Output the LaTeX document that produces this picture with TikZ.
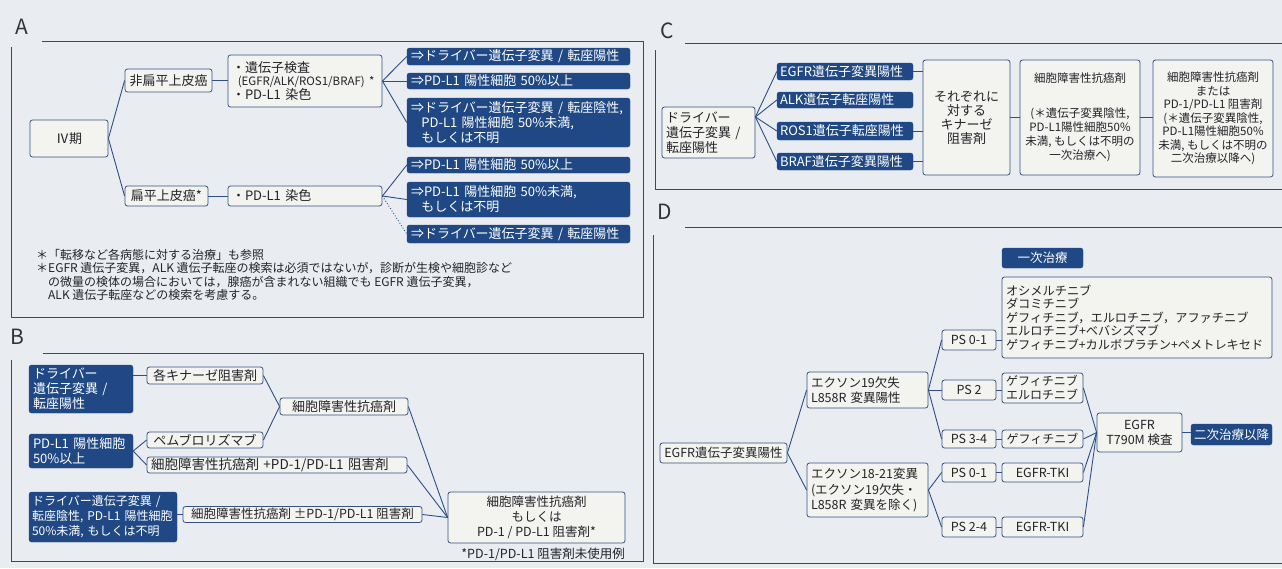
\documentclass[tikz,border=0pt]{standalone}
\usepackage{fontspec}
\setmainfont{Noto Sans CJK JP}
\usetikzlibrary{calc}
\definecolor{bg}{RGB}{233,237,242}
\definecolor{navy}{RGB}{31,72,132}
\definecolor{bord}{RGB}{52,82,132}
\definecolor{boxf}{RGB}{243,243,240}
\definecolor{framec}{RGB}{70,70,75}
\definecolor{conncol}{RGB}{45,78,135}
\definecolor{txt}{RGB}{35,35,40}
\newcommand\fz[2]{\fontsize{#1}{#2}\selectfont}
\begin{document}
\begin{tikzpicture}[x=1pt,y=-1pt,
  lbox/.style={draw=bord, fill=boxf, rounded corners=2.5pt, line width=0.8pt, inner sep=0pt, font=\fz{13}{15}, text=txt},
  dbox/.style={draw=navy, fill=navy, rounded corners=2.5pt, inner sep=0pt, font=\fz{13}{15}, text=white},
  sz/.style n args={2}{minimum width=#1pt, minimum height=#2pt},
  lt/.style={text width=#1pt, align=left, inner xsep=4pt},
  ct/.style={align=center},
  conn/.style={draw=conncol, line width=0.9pt},
  frame/.style={draw=framec, line width=0.8pt},
  plabel/.style={font=\fz{21}{21}, text=black!80, inner sep=0pt},
  note/.style={font=\fz{12}{13.5}, inner sep=0pt, align=left, text=txt}
]
\fill[bg] (0,0) rectangle (1282,568);
\useasboundingbox (0,0) rectangle (1282,568);

% ---------------- Panel A ----------------
\node[plabel] (labA) at (22,27) {A};
\draw[frame] (42,41) -- (643,41) -- (643,317) -- (11,317) -- (11,47);

\node[lbox, sz={78}{37}] (iv) at (69,138.5) {Ⅳ期};
\node[lbox, sz={87}{23}] (ns) at (168.5,80.5) {非扁平上皮癌};
\node[lbox, sz={154}{52}, lt=146] (gene) at (305,81) {・遺伝子検査\\[-2pt]{\fz{11.5}{11}\hspace*{0.5em}(EGFR/ALK/ROS1/BRAF)~*}\\[-1pt]・PD-L1~染色};
\node[lbox, sz={83}{20}] (sq) at (166.5,196) {扁平上皮癌*};
\node[lbox, sz={154}{20}, lt=146] (pd) at (305,196) {・PD-L1~染色};

\node[dbox, sz={223}{17}, lt=215] (a1) at (518.5,56.5) {⇒ドライバー遺伝子変異~/~転座陽性};
\node[dbox, sz={223}{16}, lt=215] (a2) at (518.5,81) {⇒PD-L1~陽性細胞~50\%以上};
\node[dbox, sz={223}{49}, lt=215] (a3) at (518.5,122.5) {⇒ドライバー遺伝子変異~/~転座陰性,\\\hspace*{0.8em}PD-L1~陽性細胞~50\%未満,\\\hspace*{0.8em}もしくは不明};
\node[dbox, sz={223}{16}, lt=215] (a4) at (518.5,165) {⇒PD-L1~陽性細胞~50\%以上};
\node[dbox, sz={223}{35}, lt=215] (a5) at (518.5,199.5) {⇒PD-L1~陽性細胞~50\%未満,\\\hspace*{0.8em}もしくは不明};
\node[dbox, sz={223}{18}, lt=215] (a6) at (518.5,234) {⇒ドライバー遺伝子変異~/~転座陽性};

\draw[conn] (iv.east) -- (ns.west);
\draw[conn] (iv.east) -- (sq.west);
\draw[conn] (ns.east) -- (ns.east -| gene.west);
\draw[conn] (gene.east) -- (a1.west);
\draw[conn] (gene.east) -- (a2.west);
\draw[conn] (gene.east) -- (a3.west);
\draw[conn] (sq.east) -- (pd.west);
\draw[conn] (pd.east) -- (a4.west);
\draw[conn] (pd.east) -- (a5.west);
\draw[conn, dotted] (pd.east) -- (a6.west);

\node[note, anchor=north west] (fnA) at (36,249) {＊「転移など各病態に対する治療」も参照\\
＊EGFR 遺伝子変異，ALK 遺伝子転座の検索は必須ではないが，診断が生検や細胞診など\\
\hspace*{1em}の微量の検体の場合においては，腺癌が含まれない組織でも EGFR 遺伝子変異，\\
\hspace*{1em}ALK 遺伝子転座などの検索を考慮する。};

% ---------------- Panel B ----------------
\node[plabel] (labB) at (17,337) {B};
\draw[frame] (43,353) -- (643,353) -- (643,561) -- (11,561) -- (11,360);

\node[dbox, sz={104}{48}, lt=96] (b1) at (81,389) {ドライバー\\遺伝子変異~/\\転座陽性};
\node[dbox, sz={104}{34}, lt=96] (b2) at (81,451) {PD-L1~陽性細胞\\50\%以上};
\node[dbox, sz={148}{50}, lt=142, inner xsep=3pt, font=\fz{12}{15}] (b3) at (103,517) {ドライバー遺伝子変異~/\\転座陰性,~PD-L1~陽性細胞\\50\%未満,~もしくは不明};

\node[lbox, sz={116}{17}] (kin) at (205,375.5) {各キナーゼ阻害剤};
\node[lbox, sz={128}{17}] (cyto) at (344,406.5) {細胞障害性抗癌剤};
\node[lbox, sz={116}{16}] (pem) at (205,440) {ペムブロリズマブ};
\node[lbox, sz={260}{16}, lt=252, font=\fz{13.5}{15}] (cpd) at (277,465) {細胞障害性抗癌剤~+PD-1/PD-L1~阻害剤};
\node[lbox, sz={239}{16}, font=\fz{12.5}{14}] (cpm) at (302.5,514.5) {細胞障害性抗癌剤 ±PD-1/PD-L1 阻害剤};
\node[lbox, sz={177}{51}, ct, font=\fz{12.5}{15}] (fin) at (536.5,517.5) {細胞障害性抗癌剤\\もしくは\\PD-1 / PD-L1 阻害剤*};
\node[font=\fz{12.5}{14}, anchor=east, inner sep=0pt, text=txt] (bnote) at (625,554) {*PD-1/PD-L1 阻害剤未使用例};

\draw[conn] (b1.east |- kin.west) -- (kin.west);
\draw[conn] (kin.east) -- (cyto.west);
\draw[conn] (pem.east) -- (cyto.west);
\draw[conn] (b2.east) -- (pem.west);
\draw[conn] (b2.east) -- (cpd.west);
\draw[conn] (cyto.east) -- (fin.west);
\draw[conn] (cpd.east) -- (fin.west);
\draw[conn] (b3.east |- cpm.west) -- (cpm.west);
\draw[conn] (cpm.east) -- (fin.west);

% ---------------- Panel C ----------------
\node[plabel] (labC) at (667,31) {C};
\draw[frame] (685,43) -- (1282,43);
\draw[frame] (655,50) -- (655,189) -- (1282,189);

\node[lbox, sz={93}{51}, lt=85] (drv) at (708.5,132.5) {ドライバー\\遺伝子変異~/\\転座陽性};
\node[dbox, sz={136}{17}, lt=130, inner xsep=3pt] (ce) at (845,71.5) {EGFR遺伝子変異陽性};
\node[dbox, sz={136}{16}, lt=130, inner xsep=3pt] (ca) at (845,100) {ALK遺伝子転座陽性};
\node[dbox, sz={136}{18}, lt=130, inner xsep=3pt] (cr) at (845,131) {ROS1遺伝子転座陽性};
\node[dbox, sz={136}{17}, lt=130, inner xsep=3pt] (cb) at (845,161.5) {BRAF遺伝子変異陽性};
\node[lbox, sz={87}{115}, ct, font=\fz{13}{14}] (kc) at (966.5,117.5) {それぞれに\\対する\\キナーゼ\\阻害剤};
\node[lbox, sz={120}{115}, ct, font=\fz{11.5}{14}] (cyc) at (1080,117.5) {細胞障害性抗癌剤\\[21pt](＊遺伝子変異陰性,\\PD-L1陽性細胞50\%\\未満, もしくは不明の\\一次治療へ)};
\node[lbox, sz={120}{117}, ct, font=\fz{11.5}{13.5}] (cpc) at (1213,118.5) {細胞障害性抗癌剤\\または\\PD-1/PD-L1 阻害剤\\(＊遺伝子変異陰性,\\PD-L1陽性細胞50\%\\未満, もしくは不明の\\二次治療以降へ)};

\coordinate (drvp) at ($(drv.north east)!0.2!(drv.south east)$);
\draw[conn] (drvp) -- (ce.west);
\draw[conn] (drvp) -- (ca.west);
\draw[conn] (drvp) -- (cr.west);
\draw[conn] (drvp) -- (cb.west);
\draw[conn] (ce.east) -- (ce.east -| kc.west);
\draw[conn] (cr.east) -- (cr.east -| kc.west);
\draw[conn] (cb.east) -- (cb.east -| kc.west);
\draw[conn] (kc.east) -- (cyc.west);
\draw[conn] (cyc.east) -- (cyc.east -| cpc.west);

% ---------------- Panel D ----------------
\node[plabel] (labD) at (665,212) {D};
\draw[frame] (685,227) -- (1282,227);
\draw[frame] (653,235) -- (653,563) -- (1282,563);

\node[lbox, sz={127}{20}, font=\fz{12.5}{15}] (de) at (723.5,453) {EGFR遺伝子変異陽性};
\node[lbox, sz={121}{36}, lt=113, font=\fz{12.5}{15}] (x19) at (867.5,390) {エクソン19欠失\\L858R~変異陽性};
\node[lbox, sz={121}{54}, lt=113, font=\fz{12.5}{15.5}] (x18) at (867.5,490) {エクソン18-21変異\\(エクソン19欠失・\\L858R~変異を除く)};
\node[lbox, sz={54}{20}, font=\fz{12.5}{15}] (ps1) at (969,340) {PS 0-1};
\node[lbox, sz={54}{20}, font=\fz{12.5}{15}] (ps2) at (969,390) {PS 2};
\node[lbox, sz={54}{18}, font=\fz{12.5}{15}] (ps3) at (969,439) {PS 3-4};
\node[lbox, sz={54}{19}, font=\fz{12.5}{15}] (ps4) at (969,472.5) {PS 0-1};
\node[lbox, sz={54}{20}, font=\fz{12.5}{15}] (ps5) at (969,527) {PS 2-4};
\node[dbox, sz={81}{20}, font=\fz{12.5}{14}] (first) at (1042.5,258) {一次治療};
\node[lbox, sz={270}{81}, lt=262, font=\fz{12.2}{13.5}] (drug) at (1137,317.5) {オシメルチニブ\\ダコミチニブ\\ゲフィチニブ，エルロチニブ，アファチニブ\\エルロチニブ+ベバシズマブ\\ゲフィチニブ+カルボプラチン+ペメトレキセド};
\node[lbox, sz={81}{30}, lt=73, font=\fz{12}{14}] (ge) at (1042.5,388) {ゲフィチニブ\\エルロチニブ};
\node[lbox, sz={81}{18}, font=\fz{12}{14}] (g) at (1042.5,439) {ゲフィチニブ};
\node[lbox, sz={81}{19}, font=\fz{12.5}{15}] (tk1) at (1042.5,472.5) {EGFR-TKI};
\node[lbox, sz={81}{20}, font=\fz{12.5}{15}] (tk2) at (1042.5,527) {EGFR-TKI};
\node[lbox, sz={85}{39}, ct, font=\fz{12.5}{15}] (t790) at (1139.5,432.5) {EGFR\\T790M 検査};
\node[dbox, sz={81}{21}, font=\fz{12.5}{14}] (second) at (1231.5,434.5) {二次治療以降};

\draw[conn] (de.east) -- (x19.west);
\draw[conn] (de.east) -- (x18.west);
\draw[conn] (x19.east) -- (ps1.west);
\draw[conn] (x19.east) -- (ps2.west);
\draw[conn] (x19.east) -- (ps3.west);
\draw[conn] (x18.east) -- (ps4.west);
\draw[conn] (x18.east) -- (ps5.west);
\draw[conn] (ps1.east) -- (ps1.east -| drug.west);
\draw[conn] (ps2.east) -- (ps2.east -| ge.west);
\draw[conn] (ps3.east) -- (g.west);
\draw[conn] (ps4.east) -- (tk1.west);
\draw[conn] (ps5.east) -- (tk2.west);
\draw[conn] (ge.east) -- (t790.west);
\draw[conn] (g.east) -- (t790.west);
\draw[conn] (tk1.east) -- (t790.west);
\draw[conn] (tk2.east) -- (t790.west);
\draw[conn] (t790.east) -- (t790.east -| second.west);
\end{tikzpicture}
\end{document}
